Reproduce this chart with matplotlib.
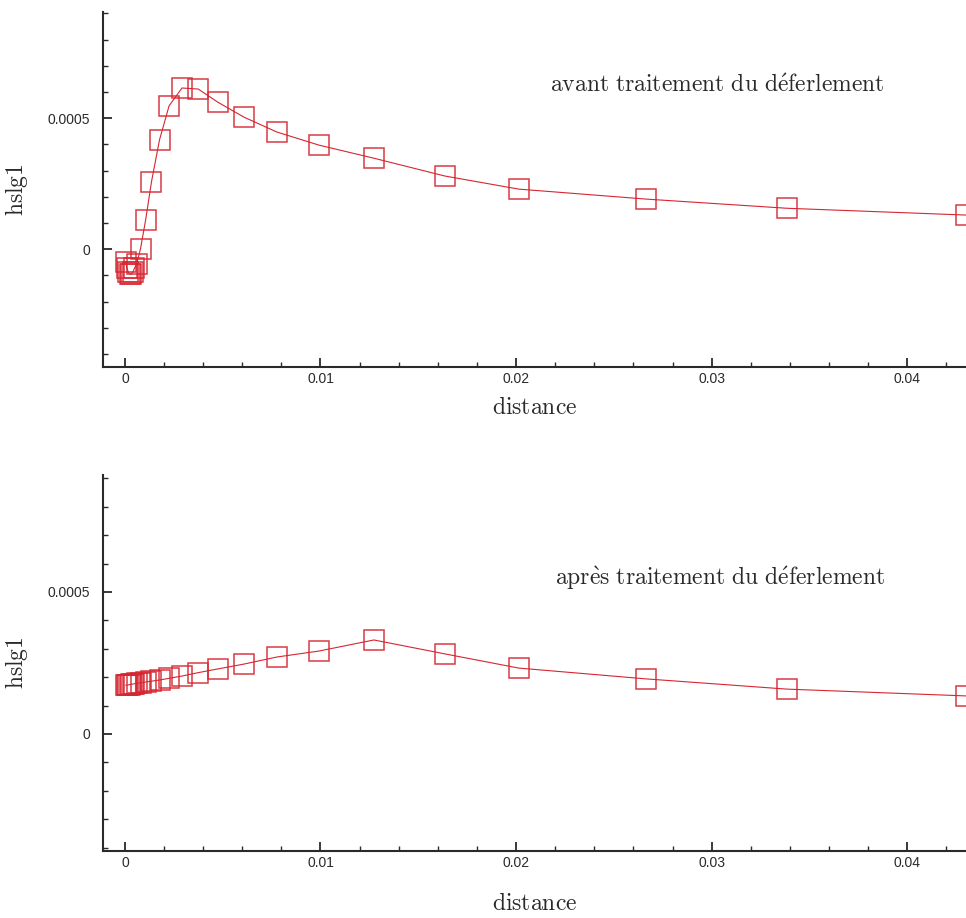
import matplotlib
matplotlib.use("Agg")
import matplotlib.pyplot as plt
from matplotlib.ticker import MultipleLocator, FuncFormatter

# distance values shared by both curves
distance = [0.00005, 0.0001, 0.00018, 0.00026, 0.00033, 0.00041, 0.00049, 0.0006,
            0.0008, 0.00106, 0.00136, 0.00177, 0.00226, 0.00292, 0.00375, 0.00475,
            0.00608, 0.00777, 0.00992, 0.01273, 0.01636, 0.02014, 0.02664, 0.03384, 0.043]

# hslg1 before breaking treatment
hslg1_avant = [-0.00005, -0.000073, -0.000088, -0.000095, -0.000095, -0.000088, -0.000073, -0.000057,
               0.000002, 0.000111, 0.000257, 0.000417, 0.000547, 0.000615, 0.000611, 0.000561,
               0.000504, 0.000447, 0.000397, 0.000347, 0.000279, 0.000229, 0.000191, 0.000156, 0.00013]

# hslg1 after breaking treatment
hslg1_apres = [0.000172, 0.000172, 0.000173, 0.000174, 0.000175, 0.000176, 0.000177, 0.000178,
               0.00018, 0.000183, 0.000186, 0.00019, 0.000196, 0.000204, 0.000216, 0.000229,
               0.000246, 0.000271, 0.000292, 0.000331, 0.000282, 0.000232, 0.000194, 0.000158, 0.000134]

labels = ["avant traitement du déferlement", "après traitement du déferlement"]

plt.rcParams["mathtext.fontset"] = "cm"
plt.rcParams["font.family"] = ["Liberation Sans", "DejaVu Sans"]

red = "#d62631"
ink = "#2a2a2a"

fig = plt.figure(figsize=(9.66, 9.18), dpi=100)
ax1 = fig.add_axes([0.1066, 0.6002, 0.8934, 0.3867])
ax2 = fig.add_axes([0.1066, 0.0730, 0.8934, 0.4096])


def serif(s):
    s = s.replace("é", r"\acute{e}").replace("è", r"\grave{e}").replace(" ", r"\ ")
    return r"$\mathrm{" + s + "}$"


def fmt(v, p):
    v = round(v, 8)
    if v == 0:
        return "0"
    return "%g" % v


panels = [(ax1, hslg1_avant, (-0.00045, 0.000905), labels[0], (0.518, 0.7915), 8),
          (ax2, hslg1_apres, (-0.000412, 0.000912), labels[1], (0.5237, 0.726), 17)]

for ax, y, ylim, lab, pos, xpad in panels:
    ax.plot(distance, y, color=red, lw=0.8)
    ax.plot(distance, y, ls="none", marker="s", ms=14.5, mfc="none",
            mec=red, mew=1.1, alpha=0.9)
    ax.set_xlim(-0.00112, 0.043)
    ax.set_ylim(*ylim)

    ax.spines["top"].set_visible(False)
    ax.spines["right"].set_visible(False)
    for s in ["left", "bottom"]:
        ax.spines[s].set_linewidth(1.5)
        ax.spines[s].set_color(ink)

    ax.xaxis.set_major_locator(MultipleLocator(0.01))
    ax.xaxis.set_minor_locator(MultipleLocator(0.002))
    ax.yaxis.set_major_locator(MultipleLocator(0.0005))
    ax.yaxis.set_minor_locator(MultipleLocator(0.0001))
    ax.xaxis.set_major_formatter(FuncFormatter(fmt))
    ax.yaxis.set_major_formatter(FuncFormatter(fmt))

    ax.tick_params(which="major", direction="in", length=6.5, width=1.3, color=ink,
                   labelsize=10, labelcolor=ink)
    ax.tick_params(which="minor", direction="in", length=3.5, width=1.0, color=ink)
    ax.tick_params(axis="x", pad=3.5)
    ax.tick_params(axis="y", pad=9)

    ax.set_xlabel(serif("distance"), fontsize=17, color=ink, labelpad=xpad)
    ax.set_ylabel(serif("hslg1"), fontsize=17, color=ink, labelpad=13)
    ax.text(pos[0], pos[1], serif(lab), transform=ax.transAxes, fontsize=17,
            color=ink, ha="left", va="center")

plt.savefig("out.png", dpi=100)
